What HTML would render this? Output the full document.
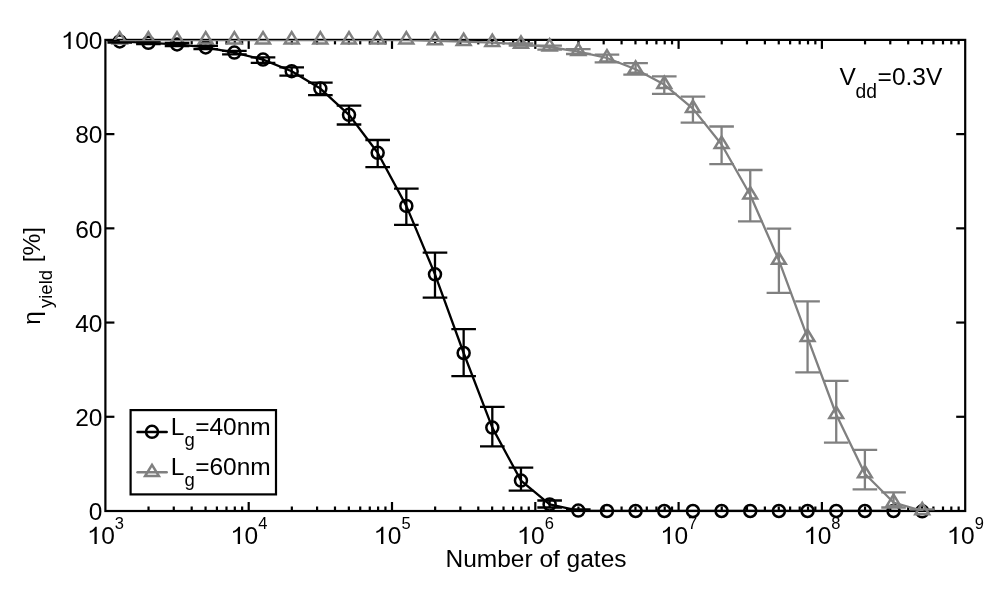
<!DOCTYPE html>
<html><head><meta charset="utf-8"><style>html,body{margin:0;padding:0;background:#fff;}svg{display:block;filter:grayscale(1);font-family:"Liberation Sans",sans-serif;}</style></head>
<body><svg width="1000" height="594" viewBox="0 0 1000 594" font-family="Liberation Sans, sans-serif">
<rect width="1000" height="594" fill="#fff"/>
<g><rect x="105.4" y="39.9" width="859.80" height="471.10" fill="none" stroke="#000" stroke-width="2.2"/><line x1="148.54" y1="511.00" x2="148.54" y2="506.50" stroke="#000" stroke-width="2.2"/><line x1="148.54" y1="39.90" x2="148.54" y2="44.40" stroke="#000" stroke-width="2.2"/><line x1="173.77" y1="511.00" x2="173.77" y2="506.50" stroke="#000" stroke-width="2.2"/><line x1="173.77" y1="39.90" x2="173.77" y2="44.40" stroke="#000" stroke-width="2.2"/><line x1="191.68" y1="511.00" x2="191.68" y2="506.50" stroke="#000" stroke-width="2.2"/><line x1="191.68" y1="39.90" x2="191.68" y2="44.40" stroke="#000" stroke-width="2.2"/><line x1="205.56" y1="511.00" x2="205.56" y2="506.50" stroke="#000" stroke-width="2.2"/><line x1="205.56" y1="39.90" x2="205.56" y2="44.40" stroke="#000" stroke-width="2.2"/><line x1="216.91" y1="511.00" x2="216.91" y2="506.50" stroke="#000" stroke-width="2.2"/><line x1="216.91" y1="39.90" x2="216.91" y2="44.40" stroke="#000" stroke-width="2.2"/><line x1="226.50" y1="511.00" x2="226.50" y2="506.50" stroke="#000" stroke-width="2.2"/><line x1="226.50" y1="39.90" x2="226.50" y2="44.40" stroke="#000" stroke-width="2.2"/><line x1="234.81" y1="511.00" x2="234.81" y2="506.50" stroke="#000" stroke-width="2.2"/><line x1="234.81" y1="39.90" x2="234.81" y2="44.40" stroke="#000" stroke-width="2.2"/><line x1="242.14" y1="511.00" x2="242.14" y2="506.50" stroke="#000" stroke-width="2.2"/><line x1="242.14" y1="39.90" x2="242.14" y2="44.40" stroke="#000" stroke-width="2.2"/><line x1="248.70" y1="511.00" x2="248.70" y2="502.00" stroke="#000" stroke-width="2.2"/><line x1="248.70" y1="39.90" x2="248.70" y2="48.90" stroke="#000" stroke-width="2.2"/><line x1="291.84" y1="511.00" x2="291.84" y2="506.50" stroke="#000" stroke-width="2.2"/><line x1="291.84" y1="39.90" x2="291.84" y2="44.40" stroke="#000" stroke-width="2.2"/><line x1="317.07" y1="511.00" x2="317.07" y2="506.50" stroke="#000" stroke-width="2.2"/><line x1="317.07" y1="39.90" x2="317.07" y2="44.40" stroke="#000" stroke-width="2.2"/><line x1="334.98" y1="511.00" x2="334.98" y2="506.50" stroke="#000" stroke-width="2.2"/><line x1="334.98" y1="39.90" x2="334.98" y2="44.40" stroke="#000" stroke-width="2.2"/><line x1="348.86" y1="511.00" x2="348.86" y2="506.50" stroke="#000" stroke-width="2.2"/><line x1="348.86" y1="39.90" x2="348.86" y2="44.40" stroke="#000" stroke-width="2.2"/><line x1="360.21" y1="511.00" x2="360.21" y2="506.50" stroke="#000" stroke-width="2.2"/><line x1="360.21" y1="39.90" x2="360.21" y2="44.40" stroke="#000" stroke-width="2.2"/><line x1="369.80" y1="511.00" x2="369.80" y2="506.50" stroke="#000" stroke-width="2.2"/><line x1="369.80" y1="39.90" x2="369.80" y2="44.40" stroke="#000" stroke-width="2.2"/><line x1="378.11" y1="511.00" x2="378.11" y2="506.50" stroke="#000" stroke-width="2.2"/><line x1="378.11" y1="39.90" x2="378.11" y2="44.40" stroke="#000" stroke-width="2.2"/><line x1="385.44" y1="511.00" x2="385.44" y2="506.50" stroke="#000" stroke-width="2.2"/><line x1="385.44" y1="39.90" x2="385.44" y2="44.40" stroke="#000" stroke-width="2.2"/><line x1="392.00" y1="511.00" x2="392.00" y2="502.00" stroke="#000" stroke-width="2.2"/><line x1="392.00" y1="39.90" x2="392.00" y2="48.90" stroke="#000" stroke-width="2.2"/><line x1="435.14" y1="511.00" x2="435.14" y2="506.50" stroke="#000" stroke-width="2.2"/><line x1="435.14" y1="39.90" x2="435.14" y2="44.40" stroke="#000" stroke-width="2.2"/><line x1="460.37" y1="511.00" x2="460.37" y2="506.50" stroke="#000" stroke-width="2.2"/><line x1="460.37" y1="39.90" x2="460.37" y2="44.40" stroke="#000" stroke-width="2.2"/><line x1="478.28" y1="511.00" x2="478.28" y2="506.50" stroke="#000" stroke-width="2.2"/><line x1="478.28" y1="39.90" x2="478.28" y2="44.40" stroke="#000" stroke-width="2.2"/><line x1="492.16" y1="511.00" x2="492.16" y2="506.50" stroke="#000" stroke-width="2.2"/><line x1="492.16" y1="39.90" x2="492.16" y2="44.40" stroke="#000" stroke-width="2.2"/><line x1="503.51" y1="511.00" x2="503.51" y2="506.50" stroke="#000" stroke-width="2.2"/><line x1="503.51" y1="39.90" x2="503.51" y2="44.40" stroke="#000" stroke-width="2.2"/><line x1="513.10" y1="511.00" x2="513.10" y2="506.50" stroke="#000" stroke-width="2.2"/><line x1="513.10" y1="39.90" x2="513.10" y2="44.40" stroke="#000" stroke-width="2.2"/><line x1="521.41" y1="511.00" x2="521.41" y2="506.50" stroke="#000" stroke-width="2.2"/><line x1="521.41" y1="39.90" x2="521.41" y2="44.40" stroke="#000" stroke-width="2.2"/><line x1="528.74" y1="511.00" x2="528.74" y2="506.50" stroke="#000" stroke-width="2.2"/><line x1="528.74" y1="39.90" x2="528.74" y2="44.40" stroke="#000" stroke-width="2.2"/><line x1="535.30" y1="511.00" x2="535.30" y2="502.00" stroke="#000" stroke-width="2.2"/><line x1="535.30" y1="39.90" x2="535.30" y2="48.90" stroke="#000" stroke-width="2.2"/><line x1="578.44" y1="511.00" x2="578.44" y2="506.50" stroke="#000" stroke-width="2.2"/><line x1="578.44" y1="39.90" x2="578.44" y2="44.40" stroke="#000" stroke-width="2.2"/><line x1="603.67" y1="511.00" x2="603.67" y2="506.50" stroke="#000" stroke-width="2.2"/><line x1="603.67" y1="39.90" x2="603.67" y2="44.40" stroke="#000" stroke-width="2.2"/><line x1="621.58" y1="511.00" x2="621.58" y2="506.50" stroke="#000" stroke-width="2.2"/><line x1="621.58" y1="39.90" x2="621.58" y2="44.40" stroke="#000" stroke-width="2.2"/><line x1="635.46" y1="511.00" x2="635.46" y2="506.50" stroke="#000" stroke-width="2.2"/><line x1="635.46" y1="39.90" x2="635.46" y2="44.40" stroke="#000" stroke-width="2.2"/><line x1="646.81" y1="511.00" x2="646.81" y2="506.50" stroke="#000" stroke-width="2.2"/><line x1="646.81" y1="39.90" x2="646.81" y2="44.40" stroke="#000" stroke-width="2.2"/><line x1="656.40" y1="511.00" x2="656.40" y2="506.50" stroke="#000" stroke-width="2.2"/><line x1="656.40" y1="39.90" x2="656.40" y2="44.40" stroke="#000" stroke-width="2.2"/><line x1="664.71" y1="511.00" x2="664.71" y2="506.50" stroke="#000" stroke-width="2.2"/><line x1="664.71" y1="39.90" x2="664.71" y2="44.40" stroke="#000" stroke-width="2.2"/><line x1="672.04" y1="511.00" x2="672.04" y2="506.50" stroke="#000" stroke-width="2.2"/><line x1="672.04" y1="39.90" x2="672.04" y2="44.40" stroke="#000" stroke-width="2.2"/><line x1="678.60" y1="511.00" x2="678.60" y2="502.00" stroke="#000" stroke-width="2.2"/><line x1="678.60" y1="39.90" x2="678.60" y2="48.90" stroke="#000" stroke-width="2.2"/><line x1="721.74" y1="511.00" x2="721.74" y2="506.50" stroke="#000" stroke-width="2.2"/><line x1="721.74" y1="39.90" x2="721.74" y2="44.40" stroke="#000" stroke-width="2.2"/><line x1="746.97" y1="511.00" x2="746.97" y2="506.50" stroke="#000" stroke-width="2.2"/><line x1="746.97" y1="39.90" x2="746.97" y2="44.40" stroke="#000" stroke-width="2.2"/><line x1="764.88" y1="511.00" x2="764.88" y2="506.50" stroke="#000" stroke-width="2.2"/><line x1="764.88" y1="39.90" x2="764.88" y2="44.40" stroke="#000" stroke-width="2.2"/><line x1="778.76" y1="511.00" x2="778.76" y2="506.50" stroke="#000" stroke-width="2.2"/><line x1="778.76" y1="39.90" x2="778.76" y2="44.40" stroke="#000" stroke-width="2.2"/><line x1="790.11" y1="511.00" x2="790.11" y2="506.50" stroke="#000" stroke-width="2.2"/><line x1="790.11" y1="39.90" x2="790.11" y2="44.40" stroke="#000" stroke-width="2.2"/><line x1="799.70" y1="511.00" x2="799.70" y2="506.50" stroke="#000" stroke-width="2.2"/><line x1="799.70" y1="39.90" x2="799.70" y2="44.40" stroke="#000" stroke-width="2.2"/><line x1="808.01" y1="511.00" x2="808.01" y2="506.50" stroke="#000" stroke-width="2.2"/><line x1="808.01" y1="39.90" x2="808.01" y2="44.40" stroke="#000" stroke-width="2.2"/><line x1="815.34" y1="511.00" x2="815.34" y2="506.50" stroke="#000" stroke-width="2.2"/><line x1="815.34" y1="39.90" x2="815.34" y2="44.40" stroke="#000" stroke-width="2.2"/><line x1="821.90" y1="511.00" x2="821.90" y2="502.00" stroke="#000" stroke-width="2.2"/><line x1="821.90" y1="39.90" x2="821.90" y2="48.90" stroke="#000" stroke-width="2.2"/><line x1="865.04" y1="511.00" x2="865.04" y2="506.50" stroke="#000" stroke-width="2.2"/><line x1="865.04" y1="39.90" x2="865.04" y2="44.40" stroke="#000" stroke-width="2.2"/><line x1="890.27" y1="511.00" x2="890.27" y2="506.50" stroke="#000" stroke-width="2.2"/><line x1="890.27" y1="39.90" x2="890.27" y2="44.40" stroke="#000" stroke-width="2.2"/><line x1="908.18" y1="511.00" x2="908.18" y2="506.50" stroke="#000" stroke-width="2.2"/><line x1="908.18" y1="39.90" x2="908.18" y2="44.40" stroke="#000" stroke-width="2.2"/><line x1="922.06" y1="511.00" x2="922.06" y2="506.50" stroke="#000" stroke-width="2.2"/><line x1="922.06" y1="39.90" x2="922.06" y2="44.40" stroke="#000" stroke-width="2.2"/><line x1="933.41" y1="511.00" x2="933.41" y2="506.50" stroke="#000" stroke-width="2.2"/><line x1="933.41" y1="39.90" x2="933.41" y2="44.40" stroke="#000" stroke-width="2.2"/><line x1="943.00" y1="511.00" x2="943.00" y2="506.50" stroke="#000" stroke-width="2.2"/><line x1="943.00" y1="39.90" x2="943.00" y2="44.40" stroke="#000" stroke-width="2.2"/><line x1="951.31" y1="511.00" x2="951.31" y2="506.50" stroke="#000" stroke-width="2.2"/><line x1="951.31" y1="39.90" x2="951.31" y2="44.40" stroke="#000" stroke-width="2.2"/><line x1="958.64" y1="511.00" x2="958.64" y2="506.50" stroke="#000" stroke-width="2.2"/><line x1="958.64" y1="39.90" x2="958.64" y2="44.40" stroke="#000" stroke-width="2.2"/><line x1="105.40" y1="416.78" x2="114.40" y2="416.78" stroke="#000" stroke-width="2.2"/><line x1="965.20" y1="416.78" x2="956.20" y2="416.78" stroke="#000" stroke-width="2.2"/><line x1="105.40" y1="322.56" x2="114.40" y2="322.56" stroke="#000" stroke-width="2.2"/><line x1="965.20" y1="322.56" x2="956.20" y2="322.56" stroke="#000" stroke-width="2.2"/><line x1="105.40" y1="228.34" x2="114.40" y2="228.34" stroke="#000" stroke-width="2.2"/><line x1="965.20" y1="228.34" x2="956.20" y2="228.34" stroke="#000" stroke-width="2.2"/><line x1="105.40" y1="134.12" x2="114.40" y2="134.12" stroke="#000" stroke-width="2.2"/><line x1="965.20" y1="134.12" x2="956.20" y2="134.12" stroke="#000" stroke-width="2.2"/></g>
<defs><clipPath id="ax"><rect x="105.4" y="39.9" width="859.80" height="471.10"/></clipPath></defs>
<g><circle cx="119.73" cy="41.40" r="6.0" fill="none" stroke="#000" stroke-width="2.5"/><circle cx="148.39" cy="42.80" r="6.0" fill="none" stroke="#000" stroke-width="2.5"/><circle cx="177.05" cy="44.40" r="6.0" fill="none" stroke="#000" stroke-width="2.5"/><circle cx="205.71" cy="47.40" r="6.0" fill="none" stroke="#000" stroke-width="2.5"/><circle cx="234.37" cy="52.60" r="6.0" fill="none" stroke="#000" stroke-width="2.5"/><circle cx="263.03" cy="59.60" r="6.0" fill="none" stroke="#000" stroke-width="2.5"/><circle cx="291.69" cy="71.20" r="6.0" fill="none" stroke="#000" stroke-width="2.5"/><circle cx="320.35" cy="88.60" r="6.0" fill="none" stroke="#000" stroke-width="2.5"/><circle cx="349.01" cy="114.80" r="6.0" fill="none" stroke="#000" stroke-width="2.5"/><circle cx="377.67" cy="152.80" r="6.0" fill="none" stroke="#000" stroke-width="2.5"/><circle cx="406.33" cy="205.90" r="6.0" fill="none" stroke="#000" stroke-width="2.5"/><circle cx="434.99" cy="274.30" r="6.0" fill="none" stroke="#000" stroke-width="2.5"/><circle cx="463.65" cy="353.00" r="6.0" fill="none" stroke="#000" stroke-width="2.5"/><circle cx="492.31" cy="427.60" r="6.0" fill="none" stroke="#000" stroke-width="2.5"/><circle cx="520.97" cy="480.60" r="6.0" fill="none" stroke="#000" stroke-width="2.5"/><circle cx="549.63" cy="504.40" r="6.0" fill="none" stroke="#000" stroke-width="2.5"/><circle cx="578.29" cy="510.60" r="6.0" fill="none" stroke="#000" stroke-width="2.5"/><circle cx="606.95" cy="511.00" r="6.0" fill="none" stroke="#000" stroke-width="2.5"/><circle cx="635.61" cy="511.00" r="6.0" fill="none" stroke="#000" stroke-width="2.5"/><circle cx="664.27" cy="511.00" r="6.0" fill="none" stroke="#000" stroke-width="2.5"/><circle cx="692.93" cy="511.00" r="6.0" fill="none" stroke="#000" stroke-width="2.5"/><circle cx="721.59" cy="511.00" r="6.0" fill="none" stroke="#000" stroke-width="2.5"/><circle cx="750.25" cy="511.00" r="6.0" fill="none" stroke="#000" stroke-width="2.5"/><circle cx="778.91" cy="511.00" r="6.0" fill="none" stroke="#000" stroke-width="2.5"/><circle cx="807.57" cy="511.00" r="6.0" fill="none" stroke="#000" stroke-width="2.5"/><circle cx="836.23" cy="511.00" r="6.0" fill="none" stroke="#000" stroke-width="2.5"/><circle cx="864.89" cy="511.00" r="6.0" fill="none" stroke="#000" stroke-width="2.5"/><circle cx="893.55" cy="511.00" r="6.0" fill="none" stroke="#000" stroke-width="2.5"/><circle cx="922.21" cy="511.30" r="6.0" fill="none" stroke="#000" stroke-width="2.5"/></g>
<g><polygon points="119.73,32.10 126.63,43.40 112.83,43.40" fill="none" stroke="#808080" stroke-width="2.5"/><polygon points="148.39,32.10 155.29,43.40 141.49,43.40" fill="none" stroke="#808080" stroke-width="2.5"/><polygon points="177.05,32.10 183.95,43.40 170.15,43.40" fill="none" stroke="#808080" stroke-width="2.5"/><polygon points="205.71,32.10 212.61,43.40 198.81,43.40" fill="none" stroke="#808080" stroke-width="2.5"/><polygon points="234.37,32.10 241.27,43.40 227.47,43.40" fill="none" stroke="#808080" stroke-width="2.5"/><polygon points="263.03,32.10 269.93,43.40 256.13,43.40" fill="none" stroke="#808080" stroke-width="2.5"/><polygon points="291.69,32.10 298.59,43.40 284.79,43.40" fill="none" stroke="#808080" stroke-width="2.5"/><polygon points="320.35,32.10 327.25,43.40 313.45,43.40" fill="none" stroke="#808080" stroke-width="2.5"/><polygon points="349.01,32.10 355.91,43.40 342.11,43.40" fill="none" stroke="#808080" stroke-width="2.5"/><polygon points="377.67,32.10 384.57,43.40 370.77,43.40" fill="none" stroke="#808080" stroke-width="2.5"/><polygon points="406.33,32.10 413.23,43.40 399.43,43.40" fill="none" stroke="#808080" stroke-width="2.5"/><polygon points="434.99,32.90 441.89,44.20 428.09,44.20" fill="none" stroke="#808080" stroke-width="2.5"/><polygon points="463.65,33.70 470.55,45.00 456.75,45.00" fill="none" stroke="#808080" stroke-width="2.5"/><polygon points="492.31,34.70 499.21,46.00 485.41,46.00" fill="none" stroke="#808080" stroke-width="2.5"/><polygon points="520.97,36.50 527.87,47.80 514.07,47.80" fill="none" stroke="#808080" stroke-width="2.5"/><polygon points="549.63,39.10 556.53,50.40 542.73,50.40" fill="none" stroke="#808080" stroke-width="2.5"/><polygon points="578.29,43.70 585.19,55.00 571.39,55.00" fill="none" stroke="#808080" stroke-width="2.5"/><polygon points="606.95,50.10 613.85,61.40 600.05,61.40" fill="none" stroke="#808080" stroke-width="2.5"/><polygon points="635.61,61.40 642.51,72.70 628.71,72.70" fill="none" stroke="#808080" stroke-width="2.5"/><polygon points="664.27,76.70 671.17,88.00 657.37,88.00" fill="none" stroke="#808080" stroke-width="2.5"/><polygon points="692.93,100.70 699.83,112.00 686.03,112.00" fill="none" stroke="#808080" stroke-width="2.5"/><polygon points="721.59,136.60 728.49,147.90 714.69,147.90" fill="none" stroke="#808080" stroke-width="2.5"/><polygon points="750.25,187.10 757.15,198.40 743.35,198.40" fill="none" stroke="#808080" stroke-width="2.5"/><polygon points="778.91,252.50 785.81,263.80 772.01,263.80" fill="none" stroke="#808080" stroke-width="2.5"/><polygon points="807.57,329.70 814.47,341.00 800.67,341.00" fill="none" stroke="#808080" stroke-width="2.5"/><polygon points="836.23,406.60 843.13,417.90 829.33,417.90" fill="none" stroke="#808080" stroke-width="2.5"/><polygon points="864.89,465.90 871.79,477.20 857.99,477.20" fill="none" stroke="#808080" stroke-width="2.5"/><polygon points="893.55,494.60 900.45,505.90 886.65,505.90" fill="none" stroke="#808080" stroke-width="2.5"/><polygon points="922.21,502.90 929.11,514.20 915.31,514.20" fill="none" stroke="#808080" stroke-width="2.5"/></g>
<g><g clip-path="url(#ax)"><line x1="119.73" y1="40.50" x2="119.73" y2="42.50" stroke="#000" stroke-width="2.3"/><line x1="107.43" y1="40.50" x2="132.03" y2="40.50" stroke="#000" stroke-width="2.3"/><line x1="107.43" y1="42.50" x2="132.03" y2="42.50" stroke="#000" stroke-width="2.3"/><line x1="148.39" y1="41.50" x2="148.39" y2="44.20" stroke="#000" stroke-width="2.3"/><line x1="136.09" y1="41.50" x2="160.69" y2="41.50" stroke="#000" stroke-width="2.3"/><line x1="136.09" y1="44.20" x2="160.69" y2="44.20" stroke="#000" stroke-width="2.3"/><line x1="177.05" y1="43.00" x2="177.05" y2="46.00" stroke="#000" stroke-width="2.3"/><line x1="164.75" y1="43.00" x2="189.35" y2="43.00" stroke="#000" stroke-width="2.3"/><line x1="164.75" y1="46.00" x2="189.35" y2="46.00" stroke="#000" stroke-width="2.3"/><line x1="205.71" y1="45.80" x2="205.71" y2="49.20" stroke="#000" stroke-width="2.3"/><line x1="193.41" y1="45.80" x2="218.01" y2="45.80" stroke="#000" stroke-width="2.3"/><line x1="193.41" y1="49.20" x2="218.01" y2="49.20" stroke="#000" stroke-width="2.3"/><line x1="234.37" y1="50.80" x2="234.37" y2="54.40" stroke="#000" stroke-width="2.3"/><line x1="222.07" y1="50.80" x2="246.67" y2="50.80" stroke="#000" stroke-width="2.3"/><line x1="222.07" y1="54.40" x2="246.67" y2="54.40" stroke="#000" stroke-width="2.3"/><line x1="263.03" y1="57.40" x2="263.03" y2="62.80" stroke="#000" stroke-width="2.3"/><line x1="250.73" y1="57.40" x2="275.33" y2="57.40" stroke="#000" stroke-width="2.3"/><line x1="250.73" y1="62.80" x2="275.33" y2="62.80" stroke="#000" stroke-width="2.3"/><line x1="291.69" y1="67.40" x2="291.69" y2="75.70" stroke="#000" stroke-width="2.3"/><line x1="279.39" y1="67.40" x2="303.99" y2="67.40" stroke="#000" stroke-width="2.3"/><line x1="279.39" y1="75.70" x2="303.99" y2="75.70" stroke="#000" stroke-width="2.3"/><line x1="320.35" y1="82.60" x2="320.35" y2="95.20" stroke="#000" stroke-width="2.3"/><line x1="308.05" y1="82.60" x2="332.65" y2="82.60" stroke="#000" stroke-width="2.3"/><line x1="308.05" y1="95.20" x2="332.65" y2="95.20" stroke="#000" stroke-width="2.3"/><line x1="349.01" y1="105.60" x2="349.01" y2="124.50" stroke="#000" stroke-width="2.3"/><line x1="336.71" y1="105.60" x2="361.31" y2="105.60" stroke="#000" stroke-width="2.3"/><line x1="336.71" y1="124.50" x2="361.31" y2="124.50" stroke="#000" stroke-width="2.3"/><line x1="377.67" y1="140.00" x2="377.67" y2="167.10" stroke="#000" stroke-width="2.3"/><line x1="365.37" y1="140.00" x2="389.97" y2="140.00" stroke="#000" stroke-width="2.3"/><line x1="365.37" y1="167.10" x2="389.97" y2="167.10" stroke="#000" stroke-width="2.3"/><line x1="406.33" y1="188.70" x2="406.33" y2="224.80" stroke="#000" stroke-width="2.3"/><line x1="394.03" y1="188.70" x2="418.63" y2="188.70" stroke="#000" stroke-width="2.3"/><line x1="394.03" y1="224.80" x2="418.63" y2="224.80" stroke="#000" stroke-width="2.3"/><line x1="434.99" y1="252.70" x2="434.99" y2="297.60" stroke="#000" stroke-width="2.3"/><line x1="422.69" y1="252.70" x2="447.29" y2="252.70" stroke="#000" stroke-width="2.3"/><line x1="422.69" y1="297.60" x2="447.29" y2="297.60" stroke="#000" stroke-width="2.3"/><line x1="463.65" y1="329.10" x2="463.65" y2="376.20" stroke="#000" stroke-width="2.3"/><line x1="451.35" y1="329.10" x2="475.95" y2="329.10" stroke="#000" stroke-width="2.3"/><line x1="451.35" y1="376.20" x2="475.95" y2="376.20" stroke="#000" stroke-width="2.3"/><line x1="492.31" y1="406.90" x2="492.31" y2="446.40" stroke="#000" stroke-width="2.3"/><line x1="480.01" y1="406.90" x2="504.61" y2="406.90" stroke="#000" stroke-width="2.3"/><line x1="480.01" y1="446.40" x2="504.61" y2="446.40" stroke="#000" stroke-width="2.3"/><line x1="520.97" y1="467.70" x2="520.97" y2="490.70" stroke="#000" stroke-width="2.3"/><line x1="508.67" y1="467.70" x2="533.27" y2="467.70" stroke="#000" stroke-width="2.3"/><line x1="508.67" y1="490.70" x2="533.27" y2="490.70" stroke="#000" stroke-width="2.3"/><line x1="549.63" y1="500.50" x2="549.63" y2="507.50" stroke="#000" stroke-width="2.3"/><line x1="537.33" y1="500.50" x2="561.93" y2="500.50" stroke="#000" stroke-width="2.3"/><line x1="537.33" y1="507.50" x2="561.93" y2="507.50" stroke="#000" stroke-width="2.3"/><line x1="578.29" y1="509.50" x2="578.29" y2="511.50" stroke="#000" stroke-width="2.3"/><line x1="565.99" y1="509.50" x2="590.59" y2="509.50" stroke="#000" stroke-width="2.3"/><line x1="565.99" y1="511.50" x2="590.59" y2="511.50" stroke="#000" stroke-width="2.3"/></g><polyline clip-path="url(#ax)" points="119.73,41.40 148.39,42.80 177.05,44.40 205.71,47.40 234.37,52.60 263.03,59.60 291.69,71.20 320.35,88.60 349.01,114.80 377.67,152.80 406.33,205.90 434.99,274.30 463.65,353.00 492.31,427.60 520.97,480.60 549.63,504.40 578.29,510.60 606.95,511.00 635.61,511.00 664.27,511.00 692.93,511.00 721.59,511.00 750.25,511.00 778.91,511.00 807.57,511.00 836.23,511.00 864.89,511.00 893.55,511.00 922.21,511.30" fill="none" stroke="#000" stroke-width="2.3" stroke-linejoin="round"/></g>
<g><g clip-path="url(#ax)"><line x1="520.97" y1="43.30" x2="520.97" y2="45.60" stroke="#808080" stroke-width="2.3"/><line x1="508.67" y1="43.30" x2="533.27" y2="43.30" stroke="#808080" stroke-width="2.3"/><line x1="508.67" y1="45.60" x2="533.27" y2="45.60" stroke="#808080" stroke-width="2.3"/><line x1="549.63" y1="45.60" x2="549.63" y2="49.60" stroke="#808080" stroke-width="2.3"/><line x1="537.33" y1="45.60" x2="561.93" y2="45.60" stroke="#808080" stroke-width="2.3"/><line x1="537.33" y1="49.60" x2="561.93" y2="49.60" stroke="#808080" stroke-width="2.3"/><line x1="578.29" y1="49.20" x2="578.29" y2="54.00" stroke="#808080" stroke-width="2.3"/><line x1="565.99" y1="49.20" x2="590.59" y2="49.20" stroke="#808080" stroke-width="2.3"/><line x1="565.99" y1="54.00" x2="590.59" y2="54.00" stroke="#808080" stroke-width="2.3"/><line x1="606.95" y1="54.60" x2="606.95" y2="62.40" stroke="#808080" stroke-width="2.3"/><line x1="594.65" y1="54.60" x2="619.25" y2="54.60" stroke="#808080" stroke-width="2.3"/><line x1="594.65" y1="62.40" x2="619.25" y2="62.40" stroke="#808080" stroke-width="2.3"/><line x1="635.61" y1="63.20" x2="635.61" y2="74.60" stroke="#808080" stroke-width="2.3"/><line x1="623.31" y1="63.20" x2="647.91" y2="63.20" stroke="#808080" stroke-width="2.3"/><line x1="623.31" y1="74.60" x2="647.91" y2="74.60" stroke="#808080" stroke-width="2.3"/><line x1="664.27" y1="76.40" x2="664.27" y2="93.80" stroke="#808080" stroke-width="2.3"/><line x1="651.97" y1="76.40" x2="676.57" y2="76.40" stroke="#808080" stroke-width="2.3"/><line x1="651.97" y1="93.80" x2="676.57" y2="93.80" stroke="#808080" stroke-width="2.3"/><line x1="692.93" y1="96.70" x2="692.93" y2="122.70" stroke="#808080" stroke-width="2.3"/><line x1="680.63" y1="96.70" x2="705.23" y2="96.70" stroke="#808080" stroke-width="2.3"/><line x1="680.63" y1="122.70" x2="705.23" y2="122.70" stroke="#808080" stroke-width="2.3"/><line x1="721.59" y1="126.50" x2="721.59" y2="164.10" stroke="#808080" stroke-width="2.3"/><line x1="709.29" y1="126.50" x2="733.89" y2="126.50" stroke="#808080" stroke-width="2.3"/><line x1="709.29" y1="164.10" x2="733.89" y2="164.10" stroke="#808080" stroke-width="2.3"/><line x1="750.25" y1="170.00" x2="750.25" y2="221.40" stroke="#808080" stroke-width="2.3"/><line x1="737.95" y1="170.00" x2="762.55" y2="170.00" stroke="#808080" stroke-width="2.3"/><line x1="737.95" y1="221.40" x2="762.55" y2="221.40" stroke="#808080" stroke-width="2.3"/><line x1="778.91" y1="228.60" x2="778.91" y2="292.80" stroke="#808080" stroke-width="2.3"/><line x1="766.61" y1="228.60" x2="791.21" y2="228.60" stroke="#808080" stroke-width="2.3"/><line x1="766.61" y1="292.80" x2="791.21" y2="292.80" stroke="#808080" stroke-width="2.3"/><line x1="807.57" y1="301.40" x2="807.57" y2="372.30" stroke="#808080" stroke-width="2.3"/><line x1="795.27" y1="301.40" x2="819.87" y2="301.40" stroke="#808080" stroke-width="2.3"/><line x1="795.27" y1="372.30" x2="819.87" y2="372.30" stroke="#808080" stroke-width="2.3"/><line x1="836.23" y1="380.80" x2="836.23" y2="442.70" stroke="#808080" stroke-width="2.3"/><line x1="823.93" y1="380.80" x2="848.53" y2="380.80" stroke="#808080" stroke-width="2.3"/><line x1="823.93" y1="442.70" x2="848.53" y2="442.70" stroke="#808080" stroke-width="2.3"/><line x1="864.89" y1="449.80" x2="864.89" y2="489.40" stroke="#808080" stroke-width="2.3"/><line x1="852.59" y1="449.80" x2="877.19" y2="449.80" stroke="#808080" stroke-width="2.3"/><line x1="852.59" y1="489.40" x2="877.19" y2="489.40" stroke="#808080" stroke-width="2.3"/><line x1="893.55" y1="492.40" x2="893.55" y2="507.50" stroke="#808080" stroke-width="2.3"/><line x1="881.25" y1="492.40" x2="905.85" y2="492.40" stroke="#808080" stroke-width="2.3"/><line x1="881.25" y1="507.50" x2="905.85" y2="507.50" stroke="#808080" stroke-width="2.3"/><line x1="922.21" y1="509.30" x2="922.21" y2="512.50" stroke="#808080" stroke-width="2.3"/><line x1="909.91" y1="509.30" x2="934.51" y2="509.30" stroke="#808080" stroke-width="2.3"/><line x1="909.91" y1="512.50" x2="934.51" y2="512.50" stroke="#808080" stroke-width="2.3"/></g><polyline clip-path="url(#ax)" points="119.73,40.00 148.39,40.00 177.05,40.00 205.71,40.00 234.37,40.00 263.03,40.00 291.69,40.00 320.35,40.00 349.01,40.00 377.67,40.00 406.33,40.00 434.99,40.80 463.65,41.60 492.31,42.60 520.97,44.40 549.63,47.00 578.29,51.60 606.95,58.00 635.61,69.30 664.27,84.60 692.93,108.60 721.59,144.50 750.25,195.00 778.91,260.40 807.57,337.60 836.23,414.50 864.89,473.80 893.55,502.50 922.21,510.80" fill="none" stroke="#808080" stroke-width="2.3" stroke-linejoin="round"/></g>
<g><rect x="130.6" y="410.1" width="145.4" height="84.3" fill="#fff" stroke="#000" stroke-width="2.2"/><line x1="137.5" y1="431.9" x2="166.7" y2="431.9" stroke="#000" stroke-width="2.5" stroke-linecap="round"/><circle cx="152.00" cy="431.80" r="6.0" fill="none" stroke="#000" stroke-width="2.5"/><text x="170.7" y="434.6" font-size="24.5">L</text><text x="184.4" y="446.1" font-size="18.5">g</text><text x="195.2" y="434.6" font-size="24.5">=40nm</text><line x1="137.5" y1="472.3" x2="166.7" y2="472.3" stroke="#808080" stroke-width="2.5" stroke-linecap="round"/><polygon points="152.00,464.80 158.90,476.10 145.10,476.10" fill="none" stroke="#808080" stroke-width="2.5"/><text x="170.7" y="474.6" font-size="24.5">L</text><text x="184.4" y="486.1" font-size="18.5">g</text><text x="195.2" y="474.6" font-size="24.5">=60nm</text></g>
<g fill="#000"><text x="102.4" y="520.2" text-anchor="end" font-size="24.5">0</text><text x="102.4" y="426.0" text-anchor="end" font-size="24.5">20</text><text x="102.4" y="331.8" text-anchor="end" font-size="24.5">40</text><text x="102.4" y="237.5" text-anchor="end" font-size="24.5">60</text><text x="102.4" y="143.3" text-anchor="end" font-size="24.5">80</text><path transform="translate(61.52,49.10)" d="M6.85 0L9.15 0L9.15 -17.45L7.6 -17.45C6.8 -15.6 4.8 -13.9 2.2 -13.0L2.2 -11.1C4.0 -11.5 5.7 -12.4 6.85 -13.5Z"/><text x="75.15" y="49.1" font-size="24.5">00</text><path transform="translate(87.59,544.10)" d="M6.85 0L9.15 0L9.15 -17.45L7.6 -17.45C6.8 -15.6 4.8 -13.9 2.2 -13.0L2.2 -11.1C4.0 -11.5 5.7 -12.4 6.85 -13.5Z"/><text x="101.21" y="544.1" font-size="24.5">0<tspan font-size="16.5" dy="-15">3</tspan></text><path transform="translate(230.89,544.10)" d="M6.85 0L9.15 0L9.15 -17.45L7.6 -17.45C6.8 -15.6 4.8 -13.9 2.2 -13.0L2.2 -11.1C4.0 -11.5 5.7 -12.4 6.85 -13.5Z"/><text x="244.51" y="544.1" font-size="24.5">0<tspan font-size="16.5" dy="-15">4</tspan></text><path transform="translate(374.19,544.10)" d="M6.85 0L9.15 0L9.15 -17.45L7.6 -17.45C6.8 -15.6 4.8 -13.9 2.2 -13.0L2.2 -11.1C4.0 -11.5 5.7 -12.4 6.85 -13.5Z"/><text x="387.81" y="544.1" font-size="24.5">0<tspan font-size="16.5" dy="-15">5</tspan></text><path transform="translate(517.49,544.10)" d="M6.85 0L9.15 0L9.15 -17.45L7.6 -17.45C6.8 -15.6 4.8 -13.9 2.2 -13.0L2.2 -11.1C4.0 -11.5 5.7 -12.4 6.85 -13.5Z"/><text x="531.11" y="544.1" font-size="24.5">0<tspan font-size="16.5" dy="-15">6</tspan></text><path transform="translate(660.79,544.10)" d="M6.85 0L9.15 0L9.15 -17.45L7.6 -17.45C6.8 -15.6 4.8 -13.9 2.2 -13.0L2.2 -11.1C4.0 -11.5 5.7 -12.4 6.85 -13.5Z"/><text x="674.41" y="544.1" font-size="24.5">0<tspan font-size="16.5" dy="-15">7</tspan></text><path transform="translate(804.09,544.10)" d="M6.85 0L9.15 0L9.15 -17.45L7.6 -17.45C6.8 -15.6 4.8 -13.9 2.2 -13.0L2.2 -11.1C4.0 -11.5 5.7 -12.4 6.85 -13.5Z"/><text x="817.71" y="544.1" font-size="24.5">0<tspan font-size="16.5" dy="-15">8</tspan></text><path transform="translate(947.39,544.10)" d="M6.85 0L9.15 0L9.15 -17.45L7.6 -17.45C6.8 -15.6 4.8 -13.9 2.2 -13.0L2.2 -11.1C4.0 -11.5 5.7 -12.4 6.85 -13.5Z"/><text x="961.01" y="544.1" font-size="24.5">0<tspan font-size="16.5" dy="-15">9</tspan></text><text x="536" y="567" text-anchor="middle" font-size="24.5">Number of gates</text><g transform="rotate(-90)"><text x="-324.8" y="40.2" font-size="24.5">η</text><text x="-308" y="52.2" font-size="18.5">yield</text><text x="-262.3" y="40.2" font-size="24.5">[%]</text></g><text x="839.5" y="85.1" font-size="24.5">V</text><text x="855.6" y="97.9" font-size="19.3">dd</text><text x="877.6" y="85.1" font-size="24.5">=0.3V</text></g>
</svg></body></html>
